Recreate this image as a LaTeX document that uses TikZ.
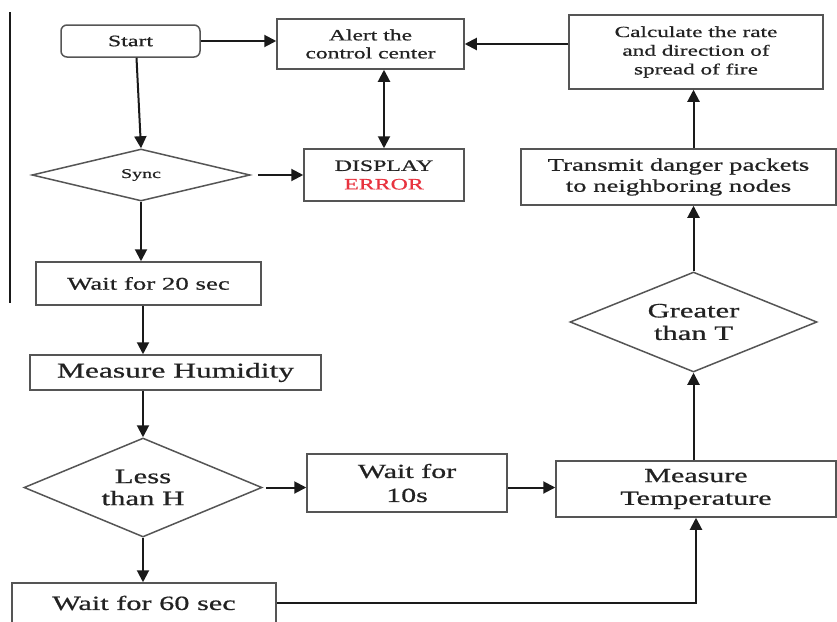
\documentclass[tikz,border=0pt]{standalone}
\usepackage{fontspec}
\setmainfont[FakeStretch=1.5,FakeBold=0.7]{Liberation Serif}
\usetikzlibrary{shapes.geometric,arrows.meta,calc}
\definecolor{boxline}{HTML}{555555}
\definecolor{arrowline}{HTML}{1A1A1A}
\definecolor{txt}{HTML}{222222}
\definecolor{errred}{HTML}{E8333F}
\begin{document}
\begin{tikzpicture}[x=1pt,y=-1pt,
  every node/.style={text=txt},
  procbox/.style={draw=boxline,line width=1.5pt,rectangle,inner sep=0pt,align=center},
  startbox/.style={procbox,rounded corners=6pt},
  decision/.style={draw=boxline,line width=1.5pt,diamond,aspect=2.4,inner sep=0pt,align=center},
  flow/.style={draw=arrowline,line width=2pt,-{Triangle[length=12pt,width=12pt]}},
  bothflow/.style={draw=arrowline,line width=2pt,{Triangle[length=12pt,width=12pt]}-{Triangle[length=12pt,width=12pt]}},
  plainline/.style={draw=arrowline,line width=1.6pt}
]
\useasboundingbox (0,0) rectangle (837,621);
\clip (0,0) rectangle (837,621);
\fill[white] (0,0) rectangle (837,621);

% left margin line
\coordinate (lt) at (10,12);
\coordinate (lb) at (10,303);
\draw[plainline] (lt) -- (lb);

% nodes
\node[startbox,minimum width=139pt,minimum height=32pt,font=\fontsize{15.9}{18}\selectfont] (start) at (130.5,41) {Start};
\node[procbox,minimum width=187pt,minimum height=50pt,font=\fontsize{15.7}{18}\selectfont] (alert) at (370.5,44) {Alert the\\control center};
\node[procbox,minimum width=254pt,minimum height=74pt,font=\fontsize{15.5}{18.7}\selectfont] (calc) at (696,52) {Calculate the rate\\and direction of\\spread of fire};
\node[decision,minimum width=218pt,minimum height=52pt,font=\fontsize{13.3}{15}\selectfont] (sync) at (141,175) {Sync};
\node[procbox,minimum width=160pt,minimum height=52pt,font=\fontsize{15.9}{18.5}\selectfont] (display) at (384,175) {DISPLAY\\\textcolor{errred}{ERROR}};
\node[procbox,minimum width=315pt,minimum height=56pt,font=\fontsize{17.8}{21}\selectfont] (transmit) at (678.5,177) {Transmit danger packets\\to neighboring nodes};
\node[procbox,minimum width=225pt,minimum height=43pt,font=\fontsize{17.9}{20}\selectfont] (wait20) at (148.5,283.5) {Wait for 20 sec};
\node[decision,minimum width=247pt,minimum height=100pt,font=\fontsize{20.4}{22.5}\selectfont] (greater) at (693.5,322) {Greater\\than T};
\node[procbox,minimum width=291pt,minimum height=35pt,font=\fontsize{21}{23}\selectfont] (humid) at (175.5,372.5) {Measure Humidity};
\node[decision,minimum width=238pt,minimum height=99pt,font=\fontsize{20.5}{22}\selectfont] (less) at (143,487.5) {Less\\than H};
\node[procbox,minimum width=200pt,minimum height=58pt,font=\fontsize{20}{24}\selectfont] (wait10) at (407,483) {Wait for\\10s};
\node[procbox,minimum width=280pt,minimum height=56pt,font=\fontsize{20}{22.7}\selectfont] (temp) at (696,489) {Measure\\Temperature};
\node[procbox,minimum width=264pt,minimum height=40pt,font=\fontsize{20.2}{23}\selectfont] (wait60) at (144,603) {Wait for 60 sec};

% connectors
\draw[flow] (start.east) -- (start.east -| alert.west);
\draw[flow] (calc.west |- alert.east) -- (alert.east);
\draw[bothflow] (display.north |- alert.south) -- (display.north);
\draw[flow] ([xshift=6pt]start.south) -- (sync.north);
\draw[flow] ([xshift=7pt]sync.east) -- (display.west);
\draw[flow] (sync.south) -- (sync.south |- wait20.north);
\draw[flow] (wait20.south -| less.north) -- (humid.north -| less.north);
\draw[flow] (humid.south -| less.north) -- (less.north);
\draw[flow] ([xshift=3pt]less.east) -- (less.east -| wait10.west);
\draw[flow] (wait10.east |- less.east) -- (temp.west |- less.east);
\draw[flow] (less.south) -- (less.south |- wait60.north);
\draw[flow] (wait60.east) -| (temp.south);
\draw[flow] (temp.north -| greater.south) -- (greater.south);
\draw[flow] (greater.north) -- (greater.north |- transmit.south);
\draw[flow] (greater.north |- transmit.north) -- (greater.north |- calc.south);
\end{tikzpicture}
\end{document}
